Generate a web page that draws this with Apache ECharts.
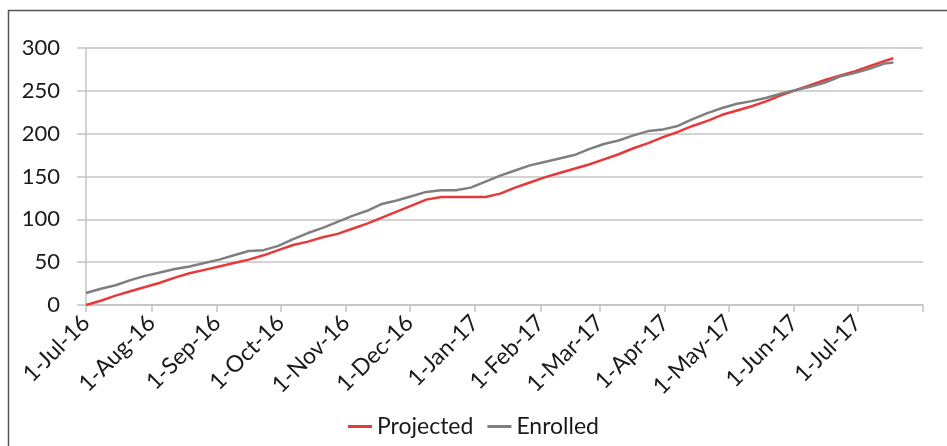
<!DOCTYPE html>
<html>
<head>
<meta charset="utf-8">
<script src="https://cdn.jsdelivr.net/npm/echarts@6/dist/echarts.min.js"></script>
<style>
  html, body { margin: 0; padding: 0; background: #fff; }
  #chart { width: 947px; height: 446px; }
</style>
</head>
<body>
<div id="chart"></div>
<script>
// Weekly enrollment snapshots, starting 1-Jul-16; last snapshot taken 18-Jul-17
const firstDate = '2016-07-01';
const lastDate = '2017-07-18';
const axisStart = '2016-07-01';
const axisEnd = '2017-08-01';

const projected = [
  0, 5, 11, 16, 21, 26, 32, 37, 41, 45,
  49, 53, 58, 64, 70, 74, 79, 83, 89, 95,
  102, 109, 116, 123, 126, 126, 126, 126, 130, 137,
  143, 149, 154, 159, 164, 170, 176, 183, 189, 196,
  202, 209, 215, 222, 227, 232, 238, 245, 251, 257,
  263, 268, 273, 279, 285, 288
];

const enrolled = [
  14, 19, 23, 29, 34, 38, 42, 45, 49, 53,
  58, 63, 64, 69, 77, 84, 90, 97, 104, 110,
  118, 122, 127, 132, 134, 134, 137, 144, 151, 157,
  163, 167, 171, 175, 182, 188, 192, 198, 203, 205,
  209, 217, 224, 230, 235, 238, 242, 247, 251, 255,
  260, 267, 271, 276, 282, 283
];

const seriesNames = ['Projected', 'Enrolled'];
const monthNames = ['Jan','Feb','Mar','Apr','May','Jun','Jul','Aug','Sep','Oct','Nov','Dec'];
const yTicks = [0, 50, 100, 150, 200, 250, 300];

const DAY = 86400000;
function ts(s) { const p = s.split('-').map(Number); return Date.UTC(p[0], p[1] - 1, p[2]); }

// snapshot dates: every 7 days, then the final snapshot
const dates = [];
for (let t = ts(firstDate); t < ts(lastDate) - 3 * DAY; t += 7 * DAY) dates.push(t);
dates.push(ts(lastDate));

// month-start tick positions along the date axis
const monthTicks = [];
{
  const s = new Date(ts(axisStart)), e = ts(axisEnd);
  let y = s.getUTCFullYear(), m = s.getUTCMonth();
  while (Date.UTC(y, m, 1) <= e) {
    monthTicks.push(Date.UTC(y, m, 1));
    m++; if (m > 11) { m = 0; y++; }
  }
}
const labelTicks = monthTicks.slice(0, -1);

function fmt(v) {
  const d = new Date(v);
  const yy = String(d.getUTCFullYear()).slice(2);
  return d.getUTCDate() + '-' + monthNames[d.getUTCMonth()] + '-' + yy;
}

const chart = echarts.init(document.getElementById('chart'), null, { renderer: 'canvas' });
const font = 'Lato, "Open Sans", sans-serif';
const gridColor = '#c4c4c4';

chart.setOption({
  animation: false,
  backgroundColor: '#fff',
  textStyle: { fontFamily: font },
  grid: { left: 86, right: 24, top: 48, bottom: 141, containLabel: false },
  xAxis: {
    type: 'value',
    min: ts(axisStart),
    max: ts(axisEnd),
    axisLine: { show: true, onZero: false, lineStyle: { color: gridColor, width: 1.5 } },
    axisTick: { show: true, length: 7, lineStyle: { color: gridColor, width: 1.5 }, customValues: monthTicks },
    axisLabel: {
      customValues: labelTicks,
      rotate: 45,
      margin: 14,
      fontSize: 23,
      color: '#1a1a1a',
      fontFamily: font,
      formatter: (v) => fmt(v)
    },
    splitLine: { show: false }
  },
  yAxis: {
    type: 'value',
    min: yTicks[0],
    max: yTicks[yTicks.length - 1],
    interval: 50,
    axisLine: { show: true, lineStyle: { color: gridColor, width: 1.5 } },
    axisTick: { show: true, length: 9, lineStyle: { color: gridColor, width: 1.5 } },
    axisLabel: { fontSize: 22, color: '#1a1a1a', margin: 26, fontFamily: font },
    splitLine: { show: true, lineStyle: { color: gridColor, width: 1.5 } }
  },
  legend: {
    bottom: 3,
    left: 'center',
    icon: 'rect',
    itemWidth: 24,
    itemHeight: 3,
    itemGap: 14,
    textStyle: { fontSize: 23, color: '#1a1a1a', fontFamily: font },
    data: seriesNames
  },
  series: [
    {
      name: seriesNames[0],
      type: 'line',
      showSymbol: false,
      symbol: 'none',
      color: '#e8393a',
      lineStyle: { width: 2.5, color: '#e8393a' },
      data: dates.map((d, i) => [d, projected[i]])
    },
    {
      name: seriesNames[1],
      type: 'line',
      showSymbol: false,
      symbol: 'none',
      color: '#7f7f7f',
      lineStyle: { width: 2.5, color: '#7f7f7f' },
      data: dates.map((d, i) => [d, enrolled[i]])
    }
  ],
  graphic: [
    {
      type: 'rect',
      silent: true,
      shape: { x: 8.5, y: 10.5, width: 1200, height: 800 },
      style: { fill: 'none', stroke: '#555', lineWidth: 1.5 }
    }
  ]
});
</script>
</body>
</html>
